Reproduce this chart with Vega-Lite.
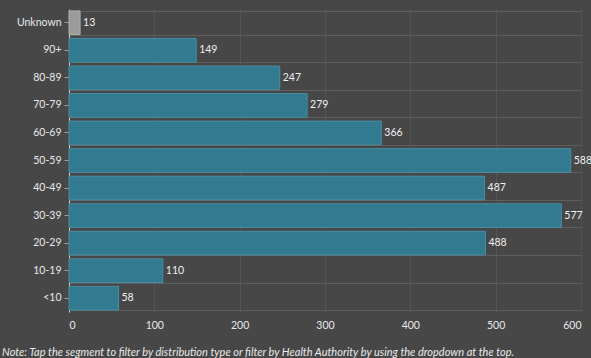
{
  "$schema": "https://vega.github.io/schema/vega-lite/v6.json",
  "width": 512,
  "height": 303,
  "autosize": {"type": "none"},
  "padding": {"left": 69, "top": 9, "right": 10, "bottom": 46},
  "background": "#474747",
  "config": {
    "view": {"stroke": null},
    "font": "Lato",
    "axis": {"labelFont": "Lato", "labelColor": "#e8e8e8", "labelFontSize": 10.5}
  },
  "title": {
    "text": "Note: Tap the segment to filter by distribution type or filter by Health Authority by using the dropdown at the top.",
    "orient": "bottom",
    "anchor": "start",
    "frame": "group",
    "dx": -67,
    "offset": 16,
    "font": "Lato",
    "fontSize": 11,
    "fontStyle": "italic",
    "fontWeight": "normal",
    "color": "#e8e8e8"
  },
  "data": {
    "values": [
      {"age": "Unknown", "count": 13, "kind": "unknown"},
      {"age": "90+", "count": 149, "kind": "known"},
      {"age": "80-89", "count": 247, "kind": "known"},
      {"age": "70-79", "count": 279, "kind": "known"},
      {"age": "60-69", "count": 366, "kind": "known"},
      {"age": "50-59", "count": 588, "kind": "known"},
      {"age": "40-49", "count": 487, "kind": "known"},
      {"age": "30-39", "count": 577, "kind": "known"},
      {"age": "20-29", "count": 488, "kind": "known"},
      {"age": "10-19", "count": 110, "kind": "known"},
      {"age": "<10", "count": 58, "kind": "known"}
    ]
  },
  "layer": [
    {
      "mark": {"type": "tick", "opacity": 0},
      "encoding": {
        "y": {
          "field": "age",
          "type": "nominal",
          "sort": null,
          "scale": {"paddingInner": 0.14, "paddingOuter": 0.07},
          "axis": {"title": null, "labels": false, "ticks": false, "domain": false, "grid": true, "tickBand": "extent", "gridColor": "#5e5e5e", "orient": "right"}
        },
        "x": {
          "field": "count",
          "type": "quantitative",
          "scale": {"domain": [0, 600], "nice": false},
          "axis": null
        }
      }
    },
    {
      "layer": [
        {
          "mark": {"type": "bar", "strokeWidth": 1},
          "encoding": {
            "y": {
              "field": "age",
              "type": "nominal",
              "sort": null,
              "axis": {"title": null, "grid": false, "domain": true, "domainColor": "#cfcfcf", "tickColor": "#9a9a9a", "tickSize": 5, "labelPadding": 3}
            },
            "x": {
              "field": "count",
              "type": "quantitative",
              "axis": {"title": null, "values": [0, 100, 200, 300, 400, 500, 600], "grid": true, "gridColor": "#535353", "domain": false, "ticks": false, "labelPadding": 8, "labelFontSize": 10.5}
            },
            "fill": {
              "field": "kind",
              "type": "nominal",
              "scale": {"domain": ["known", "unknown"], "range": ["#317a8f", "#9a9a9a"]},
              "legend": null
            },
            "stroke": {
              "field": "kind",
              "type": "nominal",
              "scale": {"domain": ["known", "unknown"], "range": ["#4a8ea1", "#b0b0b0"]},
              "legend": null
            }
          }
        },
        {
          "mark": {"type": "text", "align": "left", "baseline": "middle", "dx": 3, "fontSize": 10.5, "color": "#f0f0f0", "font": "Lato"},
          "encoding": {
            "y": {"field": "age", "type": "nominal", "sort": null},
            "x": {"field": "count", "type": "quantitative"},
            "text": {"field": "count", "type": "quantitative"}
          }
        }
      ]
    }
  ],
  "resolve": {"axis": {"y": "independent", "x": "independent"}}
}
